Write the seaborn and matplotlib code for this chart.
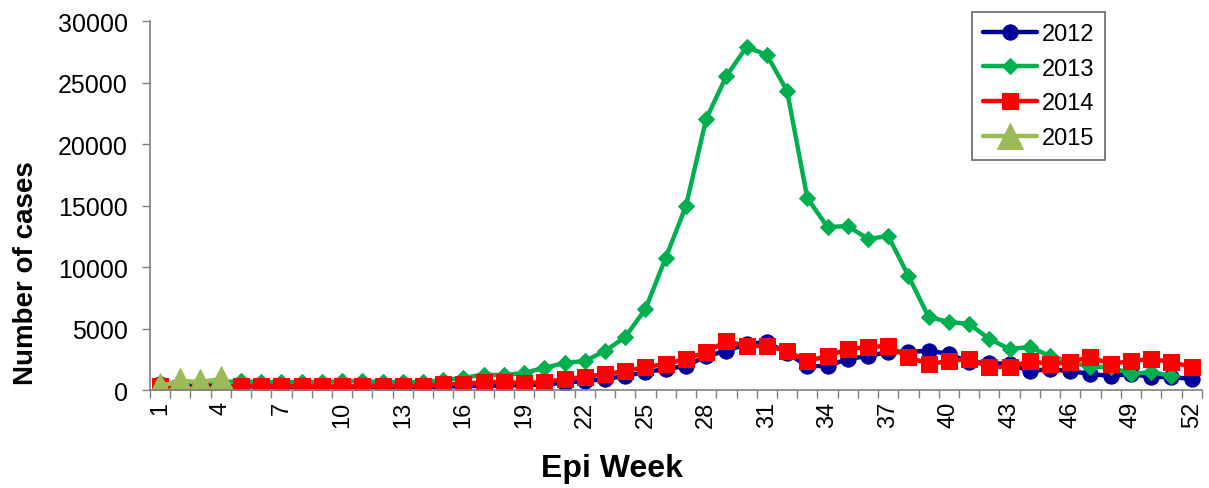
import matplotlib
matplotlib.use("Agg")
import matplotlib.pyplot as plt
import seaborn as sns
import numpy as np

weeks = list(range(1, 53))

cases_2012 = [450, 300, 350, 300, 300, 280, 260, 250, 250, 250,
              250, 250, 230, 200, 300, 300, 350, 350, 400, 450,
              600, 730, 890, 1140, 1460, 1700, 1950, 2760, 3170, 3740,
              3900, 3000, 1950, 1950, 2520, 2760, 3090, 3090, 3200, 2930,
              2280, 2200, 2110, 1540, 1700, 1540, 1300, 1140, 1300, 1060,
              1060, 890]
cases_2013 = [400, 600, 650, 650, 700, 650, 650, 650, 650, 700,
              700, 650, 650, 650, 800, 1000, 1250, 1200, 1400, 1800,
              2200, 2360, 3170, 4310, 6590, 10750, 14960, 22030, 25530, 27890,
              27240, 24310, 15610, 13250, 13330, 12280, 12520, 9270, 5930, 5530,
              5370, 4150, 3330, 3500, 2760, 2280, 1870, 1870, 1300, 1460,
              1140]
cases_2014 = [300, 150, 150, 200, 350, 330, 330, 300, 300, 300,
              330, 330, 330, 330, 490, 490, 650, 650, 570, 650,
              890, 1060, 1300, 1540, 1870, 2110, 2520, 3090, 3980, 3580,
              3580, 3170, 2360, 2760, 3330, 3500, 3580, 2680, 2110, 2360,
              2520, 1870, 1870, 2360, 2110, 2280, 2680, 2110, 2360, 2520,
              2280, 1870]
cases_2015 = [300, 750, 650, 900]

week_labels = list(range(1, 53, 3))
y_ticks = list(range(0, 30001, 5000))

sns.set_style("white")
plt.rcParams['font.family'] = ['Liberation Sans', 'DejaVu Sans']
plt.rcParams['text.color'] = 'black'
plt.rcParams['xtick.color'] = 'black'
plt.rcParams['ytick.color'] = 'black'
plt.rcParams['axes.labelcolor'] = 'black'

fig = plt.figure(figsize=(12.09, 4.89), dpi=100)
ax = fig.add_axes([0.124, 0.2004, 0.87, 0.7546])

series = [
    ("2012", cases_2012, "#000099", "o", 11),
    ("2013", cases_2013, "#00B050", "D", 8),
    ("2014", cases_2014, "#FF0000", "s", 12),
    ("2015", cases_2015, "#9BBB59", "^", 19),
]
for name, vals, col, mk, ms in series:
    sns.lineplot(x=weeks[:len(vals)], y=vals, ax=ax, color=col, marker=mk,
                 markersize=ms, markeredgecolor=col, linewidth=3.2,
                 label=name)

ax.set_xlim(0.5, 52.5)
ax.set_ylim(0, 30000)
ax.set_yticks(y_ticks)
ax.set_yticklabels([str(v) for v in y_ticks], fontsize=18)

ax.set_xticks(np.arange(0.5, 53, 1))
ax.set_xticklabels([])
ax.set_xticks(week_labels, minor=True)
ax.set_xticklabels([str(w) for w in week_labels], minor=True, rotation=90,
                   fontsize=17)
ax.tick_params(axis="x", which="major", direction="out", length=6,
               width=1, color="#808080", bottom=True)
ax.tick_params(axis="x", which="minor", length=0, pad=8)
ax.tick_params(axis="y", direction="out", length=6, width=1,
               color="#808080", pad=10, left=True)

for s in ["top", "right"]:
    ax.spines[s].set_visible(False)
for s in ["left", "bottom"]:
    ax.spines[s].set_color("#808080")
    ax.spines[s].set_linewidth(1.2)

ax.set_xlabel("Epi Week", fontsize=23, fontweight="bold")
ax.set_ylabel("Number of cases", fontsize=20, fontweight="bold")
ax.xaxis.set_label_coords(0.439, -0.17)
ax.yaxis.set_label_coords(-0.105, 0.32)

leg = ax.legend(loc="upper left", bbox_to_anchor=(0.782, 1.024), fontsize=17,
                frameon=True, fancybox=False, handlelength=2.3,
                handletextpad=0.2, labelspacing=0.54, borderpad=0.45,
                borderaxespad=0)
leg.get_frame().set_edgecolor("#404040")
leg.get_frame().set_linewidth(1.2)

fig.savefig("out.png", dpi=100)
